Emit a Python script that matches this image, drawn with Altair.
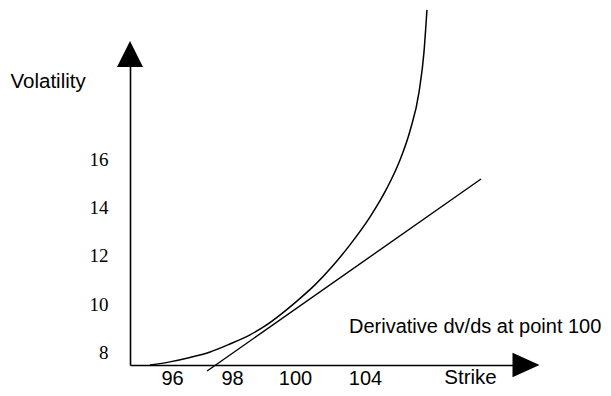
import altair as alt
import pandas as pd

# Curve (implied volatility vs strike)
strike = [95.27, 95.93, 96.60, 97.27, 97.93, 98.57, 99.05, 99.52, 100.11, 101.14,
          102.11, 103.14, 104.29, 105.26, 106.00, 106.57, 107.09, 107.37, 107.54]
vol = [7.48, 7.61, 7.79, 8.02, 8.35, 8.73, 9.10, 9.55, 10.13, 10.80,
       11.55, 12.46, 13.62, 14.82, 15.98, 17.18, 18.80, 20.45, 22.20]

# Tangent line (derivative at strike 100)
tan_strike = [97.17, 110.63]
tan_vol = [7.23, 15.19]

x_ticks = [96, 98, 100, 104]
y_ticks = [8, 10, 12, 14, 16]

annotation = "Derivative dv/ds at point 100"

W, H = 396, 311

df_curve = pd.DataFrame({"strike": strike, "vol": vol})
df_tan = pd.DataFrame({"strike": tan_strike, "vol": tan_vol})
one = pd.DataFrame({"a": [0]})

x_scale = alt.Scale(domain=[94.6, 96, 98, 100, 104, 113.2],
                    range=[0, 42, 102, 165, 235, W], zero=False, nice=False)
y_scale = alt.Scale(domain=[7.48, 20.37], zero=False, nice=False)

x_axis = alt.Axis(values=x_ticks, grid=False, ticks=False, tickSize=0,
                  domainColor="black", domainWidth=1.6,
                  labelFont="Liberation Sans", labelFontSize=20, labelColor="black",
                  labelPadding=3, labelFlush=False, labelOverlap=False,
                  title="Strike", titleX=340, titleY=18.5, titleAlign="center",
                  titleBaseline="alphabetic", titleFont="Liberation Sans",
                  titleFontSize=20.5, titleFontWeight="normal", titleColor="black")

y_axis = alt.Axis(values=y_ticks, grid=False, ticks=False, tickSize=0,
                  domainColor="black", domainWidth=1.6,
                  labelFont="Liberation Serif", labelFontSize=19, labelColor="black",
                  labelPadding=22, labelFlush=False, labelOverlap=False,
                  title="Volatility", titleAngle=0, titleX=-120, titleY=33,
                  titleAlign="left", titleBaseline="alphabetic",
                  titleFont="Liberation Sans", titleFontSize=20.5,
                  titleFontWeight="normal", titleColor="black")

curve = alt.Chart(df_curve).mark_line(color="black", strokeWidth=1.5,
                                      interpolate="monotone").encode(
    x=alt.X("strike:Q", scale=x_scale, axis=x_axis),
    y=alt.Y("vol:Q", scale=y_scale, axis=y_axis),
)

tangent = alt.Chart(df_tan).mark_line(color="black", strokeWidth=1.4).encode(
    x=alt.X("strike:Q", scale=x_scale, axis=x_axis),
    y=alt.Y("vol:Q", scale=y_scale, axis=y_axis),
)

arrow_up = alt.Chart(one).mark_point(shape="M0,-1L1,1L-1,1Z", size=676, filled=True,
                                     color="black", opacity=1, strokeWidth=0).encode(
    x=alt.value(0), y=alt.value(0))

arrow_right = alt.Chart(one).mark_point(shape="M1,0L-1,-0.9L-1,0.9Z", size=729,
                                        filled=True, color="black", opacity=1,
                                        strokeWidth=0).encode(
    x=alt.value(W), y=alt.value(H))

label = alt.Chart(one).mark_text(align="left", baseline="alphabetic",
                                 font="Liberation Sans", fontSize=20,
                                 color="black", text=annotation).encode(
    x=alt.value(219), y=alt.value(279))

chart = alt.layer(curve, tangent, arrow_up, arrow_right, label).properties(
    width=W, height=H,
    autosize=alt.AutoSizeParams(type="none"),
    padding={"left": 122, "top": 46, "right": 77, "bottom": 23},
).configure_view(stroke=None)

chart.save("out.html", embed_options={"renderer": "svg", "actions": False})
